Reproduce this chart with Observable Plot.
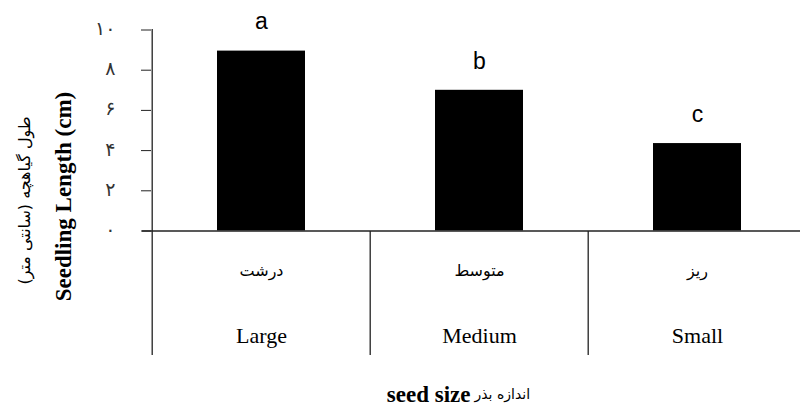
<!DOCTYPE html>
<html>
<head>
<meta charset="utf-8">
<script src="https://cdn.jsdelivr.net/npm/d3@7"></script>
<script src="https://cdn.jsdelivr.net/npm/@observablehq/plot@0.6"></script>
<style>
  html, body { margin: 0; padding: 0; background: #fff; }
  #chart svg { display: block; }
</style>
</head>
<body>
<div id="chart"></div>
<script>
const categories = ["Large", "Medium", "Small"];
const persianCategories = ["درشت", "متوسط", "ریز"];
const lengths = [8.95, 7.0, 4.35];
const letters = ["a", "b", "c"];
const yTicks = [0, 2, 4, 6, 8, 10];
const yTitleEn = "Seedling Length (cm)";
const yTitleFa = "طول گیاهچه (سانتی متر)";
const xTitleEn = "seed size";
const xTitleFa = "اندازه بذر";

const data = categories.map((c, i) => ({
  cat: c, fa: persianCategories[i], value: lengths[i], letter: letters[i]
}));

const toPersian = d => String(d).replace(/\d/g, c => "۰۱۲۳۴۵۶۷۸۹"[+c]);
const ink = "#222";

const chart = Plot.plot({
  width: 800,
  height: 410,
  marginTop: 29,
  marginBottom: 55,
  marginLeft: 151,
  marginRight: 0,
  style: { fontFamily: "Liberation Serif", background: "#fff", color: ink },
  x: { domain: categories, range: [151, 807], padding: 0, axis: null },
  y: { domain: [0, 10], range: [230.5, 29.5], axis: null },
  marks: [
    Plot.barY(data, { x: "cat", y: "value", fill: "#000", insetLeft: 65, insetRight: 65 }),
    Plot.axisY(yTicks, {
      anchor: "left", label: null, tickSize: 10, tickFormat: () => "", stroke: ink
    }),
    Plot.text(yTicks, {
      y: d => d, text: toPersian, frameAnchor: "left", textAnchor: "end", lineAnchor: "middle",
      dx: -36, dy: -1, fontFamily: "DejaVu Sans", fontSize: 19, fill: "#333"
    }),
    Plot.ruleY([0], { stroke: ink, strokeWidth: 1.3, insetLeft: -9 }),
    Plot.ruleX(data.slice(0, 1), { x: "cat", dx: -109.3, stroke: ink, strokeWidth: 1.3 }),
    Plot.ruleX(data.slice(1), { x: "cat", dx: -109.3, stroke: ink, strokeWidth: 1.3, insetTop: 202 }),
    Plot.text(data, {
      x: "cat", y: "value", text: "letter", dy: -29,
      fontFamily: "Liberation Sans", fontSize: 23, fill: "#000"
    }),
    Plot.text(data, {
      x: "cat", text: "fa", frameAnchor: "bottom", lineAnchor: "middle", dy: -85,
      fontFamily: "DejaVu Sans", fontSize: 16, fill: "#000"
    }),
    Plot.text(data, {
      x: "cat", text: "cat", frameAnchor: "bottom", lineAnchor: "middle", dy: -20,
      fontFamily: "Liberation Serif", fontSize: 22, fill: "#000"
    }),
    Plot.text([yTitleEn], {
      text: d => d, frameAnchor: "left", textAnchor: "middle", lineAnchor: "middle",
      rotate: -90, dx: -88, dy: 4,
      fontFamily: "Liberation Serif", fontWeight: "bold", fontSize: 23, fill: "#000"
    }),
    Plot.text([yTitleFa], {
      text: d => d, frameAnchor: "left", textAnchor: "middle", lineAnchor: "middle",
      rotate: -90, dx: -127, dy: 8,
      fontFamily: "DejaVu Sans", fontSize: 16, fill: "#000"
    }),
    Plot.text([xTitleEn], {
      text: d => d, x: () => categories[1], frameAnchor: "bottom", lineAnchor: "middle",
      textAnchor: "end", dx: -9, dy: 39,
      fontFamily: "Liberation Serif", fontWeight: "bold", fontSize: 23, fill: "#000"
    }),
    Plot.text([xTitleFa], {
      text: d => d, x: () => categories[1], frameAnchor: "bottom", lineAnchor: "middle",
      textAnchor: "start", dx: -5, dy: 39,
      fontFamily: "DejaVu Sans", fontSize: 14, fill: "#000"
    })
  ]
});
document.getElementById("chart").appendChild(chart);
</script>
</body>
</html>
